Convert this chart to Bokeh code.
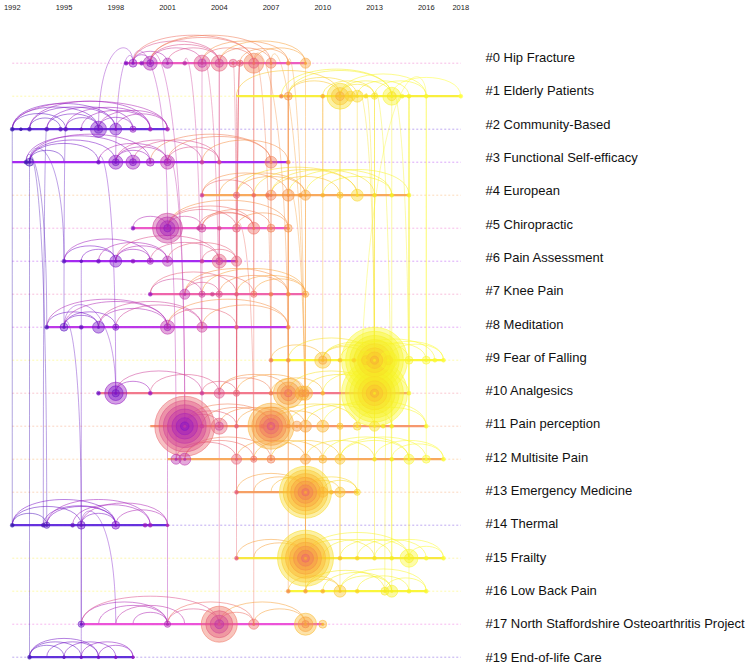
import numpy as np
from bokeh.plotting import figure
from bokeh.models import Range1d, LinearAxis, FixedTicker, ColumnDataSource
from bokeh.embed import file_html
from bokeh.resources import INLINE
from bokeh.core.properties import value

# ---------------- data ----------------
cluster_labels = ["#0 Hip Fracture", "#1 Elderly Patients", "#2 Community-Based",
                  "#3 Functional Self-efficacy", "#4 European", "#5 Chiropractic",
                  "#6 Pain Assessment", "#7 Knee Pain", "#8 Meditation", "#9 Fear of Falling",
                  "#10 Analgesics", "#11 Pain perception", "#12 Multisite Pain",
                  "#13 Emergency Medicine", "#14 Thermal", "#15 Frailty", "#16 Low Back Pain",
                  "#17 North Staffordshire Osteoarthritis Project", "#19 End-of-life Care"]
cluster_start = [1998.5, 2005, 1992, 1992, 2003, 1999, 1995, 2000, 1994, 2007, 1997, 2000,
                 2001, 2005, 1992, 2005, 2008, 1996, 1993]
cluster_end = [2009, 2018, 2001, 2008, 2015, 2008, 2005, 2009, 2008, 2017, 2015, 2016,
               2017, 2012, 2001, 2017, 2016, 2010, 1999]
year_ticks = [1992, 1995, 1998, 2001, 2004, 2007, 2010, 2013, 2016, 2018]
timeline_span = [1992, 2018]

node_years = [
    [1998.6, 1999, 1999.5, 2000, 2001, 2002, 2003, 2004, 2004.8, 2005.2, 2006, 2007, 2008, 2009],
    [2007.6, 2008, 2010, 2011, 2011.6, 2012, 2012.5, 2013, 2014, 2014.6, 2015, 2016, 2018],
    [1992, 1992.5, 1993, 1994, 1994.8, 1995.1, 1996, 1997, 1998, 1999, 2000, 2001],
    [1992.8, 1993, 1997, 1998, 1999, 2000, 2001, 2003, 2004, 2007, 2008],
    [2003, 2005, 2006, 2006.8, 2007, 2008, 2008.7, 2009, 2010, 2011, 2012, 2013, 2014, 2015],
    [1999, 2001, 2002.8, 2003, 2004, 2005, 2006, 2007, 2008],
    [1995, 1996, 1997, 1998, 1999, 2000, 2001, 2003, 2004, 2005],
    [2000, 2002, 2003, 2003.6, 2004, 2005, 2006, 2007, 2008, 2009],
    [1994, 1995, 1996, 1997, 1998, 2001, 2003, 2005, 2008],
    [2007, 2008, 2010, 2011, 2011.8, 2012.5, 2013, 2013.8, 2015, 2016, 2016.5, 2017],
    [1997, 1998, 2000, 2003, 2004, 2005, 2007, 2008, 2008.8, 2009, 2010, 2013, 2015],
    [2002, 2003, 2004, 2005, 2006.5, 2007, 2008, 2008.5, 2009, 2010, 2011, 2012, 2013, 2013.5, 2014, 2016],
    [2001.5, 2002, 2005, 2006, 2007, 2009, 2010, 2011, 2013, 2014, 2015, 2016, 2017],
    [2005, 2009, 2010, 2010.5, 2011, 2012],
    [1992, 1993.8, 1994, 1995.5, 1996, 1998, 1999.7, 2000, 2001],
    [2005, 2009, 2011, 2012, 2013, 2014, 2015, 2016, 2017],
    [2008, 2009, 2010, 2011, 2012, 2013.6, 2014, 2015, 2016],
    [1996, 2001, 2004, 2006, 2009, 2010],
    [1993, 1995, 1996, 1997, 1998, 1999],
]
node_cites = [
    [2, 8, 2, 25, 13, 2, 33, 33, 8, 5, 51, 13, 2, 13],
    [2, 8, 2, 86, 13, 18, 2, 5, 41, 2, 2, 2, 2],
    [2, 1, 2, 2, 2, 2, 1, 33, 18, 5, 2, 2],
    [2, 8, 2, 25, 25, 8, 25, 2, 2, 18, 2],
    [2, 5, 2, 2, 13, 18, 2, 13, 2, 5, 18, 2, 2, 2],
    [2, 115, 2, 8, 2, 8, 18, 8, 8],
    [2, 1, 2, 18, 2, 5, 13, 2, 25, 13],
    [2, 13, 5, 2, 5, 2, 5, 2, 2, 5],
    [2, 8, 2, 18, 5, 25, 13, 2, 2],
    [2, 2, 33, 2, 2, 41, 556, 41, 8, 8, 2, 2],
    [2, 62, 2, 2, 13, 5, 2, 115, 25, 25, 2, 556, 2],
    [459, 2, 33, 2, 2, 270, 2, 13, 18, 18, 5, 8, 13, 2, 2, 2],
    [13, 18, 13, 5, 8, 13, 8, 13, 2, 2, 13, 8, 2],
    [2, 345, 13, 2, 13, 5],
    [2, 2, 5, 2, 8, 8, 2, 2, 1],
    [2, 400, 2, 2, 2, 2, 41, 2, 2],
    [2, 2, 2, 18, 2, 8, 18, 2, 2],
    [5, 5, 165, 13, 62, 8],
    [2, 1, 1, 1, 1, 1],
]

# co-citation links inside a cluster (pairs of years)
row_links = [
    [(1999, 2004), (1999, 2006), (2000, 2006), (2000, 2003), (2000, 2004), (1999, 2001), (2001, 2004),
     (2003, 2006), (2004, 2007), (2004, 2009), (2006, 2009), (2003, 2008), (2000, 2007), (2005.2, 2008), (1999, 2000)],
    [(2005, 2011), (2007.6, 2014), (2008, 2014), (2008, 2012), (2011, 2014), (2011, 2016), (2012, 2015),
     (2014, 2018), (2010, 2013), (2013, 2016), (2008, 2011), (2011, 2013)],
    [(1992, 1997), (1992, 1998), (1992, 2001), (1993, 1998), (1993, 2000), (1994, 1997), (1994, 1999),
     (1995.1, 1997), (1995.1, 2000), (1997, 2001), (1997, 1999), (1992, 1995.1), (1993, 1994.8), (1998, 2001), (1996, 2000)],
    [(1993, 1998), (1992.8, 1999), (1993, 1997), (1993, 2000), (1997, 2001), (1998, 2001), (1998, 2003),
     (1999, 2004), (2000, 2007), (2001, 2007), (2001, 2004), (1998, 2000), (1993, 1995), (2003, 2008)],
    [(2003, 2008), (2004, 2009), (2005, 2012), (2006, 2012), (2007, 2013), (2008, 2014), (2009, 2015),
     (2005, 2009), (2007, 2011), (2010, 2014), (2003, 2006)],
    [(2001, 2005), (2001, 2006), (2001, 2008), (2003, 2007), (2003, 2006), (2005, 2008), (2002.8, 2006),
     (1999, 2001), (2001, 2003)],
    [(1995, 1998), (1995, 2000), (1996, 1998), (1997, 2001), (1998, 2001), (1998, 2004), (2000, 2004),
     (2001, 2005), (1998, 2000), (2003, 2005)],
    [(2000, 2003), (2000, 2005), (2002, 2006), (2002, 2008), (2003, 2009), (2004, 2008), (2005, 2009),
     (2006, 2009), (2002, 2004)],
    [(1994, 1997), (1994, 2001), (1995, 1998), (1995, 2001), (1997, 2001), (1997, 2003), (1998, 2003),
     (2001, 2005), (2001, 2008), (2003, 2008), (1995, 1997)],
    [(2007, 2010), (2008, 2013), (2010, 2013), (2010, 2013.8), (2011, 2015), (2012.5, 2016), (2013, 2017),
     (2013.8, 2017), (2011.8, 2016.5), (2010, 2012.5)],
    [(1998, 2000), (1998, 2003), (2000, 2004), (2003, 2005), (2004, 2008), (2005, 2009), (2007, 2010),
     (2008, 2013), (2009, 2013), (2010, 2015), (2004, 2007)],
    [(2002, 2004), (2002, 2005), (2003, 2007), (2004, 2008), (2005, 2009), (2007, 2010), (2007, 2012),
     (2008, 2013), (2009, 2014), (2010, 2016), (2012, 2016), (2002, 2007)],
    [(2001.5, 2005), (2002, 2006), (2002, 2007), (2005, 2009), (2006, 2010), (2007, 2011), (2009, 2013),
     (2010, 2015), (2011, 2016), (2013, 2017), (2011, 2015), (2014, 2017)],
    [(2005, 2009), (2006, 2009), (2007, 2010), (2009, 2011), (2009, 2012), (2010, 2012)],
    [(1992, 1994), (1992, 1996), (1993.8, 1998), (1994, 1998), (1994, 2000), (1995.5, 2000), (1996, 2001),
     (1996, 1998), (1998, 2001), (1992, 1998)],
    [(2005, 2009), (2006, 2009), (2009, 2013), (2009, 2015), (2011, 2015), (2012, 2016), (2013, 2017),
     (2015, 2017), (2010, 2014)],
    [(2008, 2011), (2009, 2013.6), (2010, 2014), (2011, 2014), (2011, 2016), (2012, 2015), (2013.6, 2016),
     (2009, 2011)],
    [(1996, 2001), (1996, 2004), (1997, 2001), (1998, 2002), (2001, 2004), (2001, 2006), (2004, 2006),
     (2004, 2009), (2006, 2009), (1999, 2001)],
    [(1993, 1996), (1993, 1997), (1994, 1997), (1995, 1998), (1996, 1999), (1993, 1995), (1997, 1999)],
]

# links between clusters: (row a, year a, row b, year b) -- rows are display positions
cross_links = [
    (18, 1993, 3, 1993), (14, 1992, 2, 1992), (14, 1993.8, 2, 1994), (14, 1994, 3, 1993),
    (8, 1995, 2, 1995.1), (8, 1994, 3, 1992.8), (6, 1995, 3, 1993), (14, 1996, 8, 1995),
    (17, 1996, 14, 1996), (18, 1996, 17, 1996), (17, 1996, 6, 1996), (10, 1998, 3, 1997),
    (10, 1998, 8, 1995), (17, 1998, 14, 1996), (17, 2001, 11, 2001), (12, 2001.5, 5, 2001),
    (11, 2002, 3, 2001), (11, 2002, 0, 2000), (5, 2001, 0, 1999), (3, 1998, 0, 1999),
    (2, 1997, 0, 1999), (13, 2005, 0, 2005.2), (11, 2004, 0, 2004), (10, 2004, 0, 2003),
    (17, 2004, 5, 2004), (17, 2006, 4, 2006), (12, 2005, 0, 2005.2), (12, 2007, 0, 2007),
    (11, 2007, 0, 2006), (13, 2009, 0, 2007), (15, 2009, 0, 2008), (15, 2009, 4, 2009),
    (13, 2009, 4, 2008), (10, 2008, 0, 2006), (9, 2008, 1, 2008), (7, 2006, 0, 2006),
    (6, 2004, 0, 2004), (8, 2003, 0, 2003), (5, 2006, 0, 2006), (12, 2006, 5, 2005),
    (11, 2003, 0, 2002), (16, 2011, 1, 2011), (16, 2014, 1, 2014), (15, 2015, 1, 2015),
    (12, 2015, 1, 2014), (9, 2013, 1, 2013), (10, 2013, 1, 2012), (15, 2013, 9, 2013),
    (16, 2013.6, 9, 2013.8), (11, 2013, 1, 2013), (12, 2011, 1, 2011), (15, 2011, 4, 2011),
    (13, 2010, 1, 2010), (16, 2009, 10, 2009), (15, 2012, 1, 2016), (12, 2016, 1, 2016),
    (4, 2012, 1, 2012), (4, 2010, 1, 2010), (16, 2008, 1, 2008), (15, 2005, 0, 2005.2),
    (9, 2007, 0, 2007), (10, 2005, 0, 2004.8), (11, 2005, 1, 2005), (12, 2009, 0, 2009),
    (15, 2014, 1, 2013), (16, 2015, 1, 2015), (9, 2016, 1, 2016), (10, 2015, 1, 2015),
    (12, 2013, 1, 2012.5), (11, 2014, 9, 2014), (13, 2008, 0, 2008), (11, 2008, 1, 2008),
]

# ---------------- layout ----------------
W, H = 753, 665
TOP = 10
PX_YEAR = 17.25
X0 = 2001 - 167 / PX_YEAR
X1 = X0 + W / PX_YEAR
PPR = 33.0
ROW0 = 52.7
frame_h = H - TOP
y_top = ROW0 / PPR
y_bot = -(frame_h - ROW0) / PPR

NODE_Y = [1992, 1995, 1998, 2000, 2002, 2004, 2006, 2008, 2010, 2012, 2014, 2018]
NODE_C = [(60, 30, 175), (95, 25, 195), (125, 20, 200), (160, 30, 190), (190, 50, 170),
          (220, 80, 140), (238, 110, 100), (245, 145, 70), (250, 180, 50), (250, 215, 40),
          (245, 240, 35), (255, 255, 60)]
LINE_Y = [1995, 1998, 2000, 2003, 2005, 2007, 2009, 2010.5, 2012]
LINE_C = [(80, 40, 210), (110, 40, 230), (160, 32, 240), (235, 75, 215), (240, 100, 150),
          (242, 128, 120), (248, 165, 85), (248, 225, 60), (250, 245, 50)]


def pal(y, ys, cs):
    r = np.interp(y, ys, [c[0] for c in cs])
    g = np.interp(y, ys, [c[1] for c in cs])
    b = np.interp(y, ys, [c[2] for c in cs])
    return "#%02x%02x%02x" % (int(r), int(g), int(b))


def ncol(y):
    return pal(y, NODE_Y, NODE_C)


def lcol(y):
    return pal(y, LINE_Y, LINE_C)


p = figure(width=W, height=H, x_range=Range1d(X0, X1), y_range=Range1d(y_bot, y_top),
           output_backend="svg", toolbar_location=None, x_axis_location=None,
           y_axis_location=None, min_border_left=0, min_border_right=0,
           min_border_bottom=0, min_border_top=TOP)
p.grid.visible = False
p.outline_line_color = None
p.background_fill_color = "white"
p.border_fill_color = "white"

ax = LinearAxis(ticker=FixedTicker(ticks=year_ticks))
ax.axis_line_color = None
ax.major_tick_line_color = None
ax.minor_tick_line_color = None
ax.major_tick_out = 0
ax.major_tick_in = 0
ax.major_label_standoff = 1
ax.major_label_text_font = "Liberation Sans"
ax.major_label_text_font_size = "7.5px"
ax.major_label_text_color = "#222222"
p.add_layout(ax, "above")

n = len(cluster_labels)
rows_y = [-i for i in range(n)]
line_colors = [lcol((s + e) / 2) for s, e in zip(cluster_start, cluster_end)]

# dashed background timelines
p.segment(x0=[timeline_span[0]] * n, y0=rows_y, x1=[timeline_span[1]] * n, y1=rows_y,
          line_color=line_colors, line_alpha=0.4, line_width=1, line_dash="2 2")

# cross-cluster links
cl = dict(x0=[], y0=[], x1=[], y1=[], cx0=[], cy0=[], cx1=[], cy1=[], c=[])
for ra, ya, rb, yb in cross_links:
    dx = abs(ya - yb) * PX_YEAR
    h = min(45, 0.6 * dx) + 6
    top = -min(ra, rb) + h / PPR
    cl["x0"].append(ya); cl["y0"].append(-ra)
    cl["x1"].append(yb); cl["y1"].append(-rb)
    cl["cx0"].append(ya); cl["cy0"].append(top)
    cl["cx1"].append(yb); cl["cy1"].append(top)
    cl["c"].append(ncol(max(ya, yb)))
p.bezier(x0="x0", y0="y0", x1="x1", y1="y1", cx0="cx0", cy0="cy0", cx1="cx1", cy1="cy1",
         line_color="c", line_alpha=0.45, line_width=0.9, source=ColumnDataSource(cl))

# in-cluster arcs
al = dict(x0=[], y0=[], x1=[], y1=[], cx0=[], cy0=[], cx1=[], cy1=[], c=[])
for i, links in enumerate(row_links):
    for a, b in links:
        dx = abs(b - a) * PX_YEAR
        h = min(28, 5 + 0.2 * dx)
        cy = -i + (4.0 / 3.0) * h / PPR
        al["x0"].append(a); al["y0"].append(-i)
        al["x1"].append(b); al["y1"].append(-i)
        al["cx0"].append(a); al["cy0"].append(cy)
        al["cx1"].append(b); al["cy1"].append(cy)
        al["c"].append(ncol(max(a, b)))
p.bezier(x0="x0", y0="y0", x1="x1", y1="y1", cx0="cx0", cy0="cy0", cx1="cx1", cy1="cy1",
         line_color="c", line_alpha=0.6, line_width=0.9, source=ColumnDataSource(al))

# cluster timelines
p.segment(x0=cluster_start, y0=rows_y, x1=cluster_end, y1=rows_y,
          line_color=line_colors, line_width=2.2, line_alpha=0.95)

# nodes as citation tree rings
rings = []
for i in range(n):
    for yr, c in zip(node_years[i], node_cites[i]):
        R = 1.4 * np.sqrt(c)
        k = max(1, int(round(R / 4.0)))
        a = min(3.5, R / 8.0)
        for j in range(k):
            rad = R * (k - j) / k
            t = 1.0 - j / (k - 1) if k > 1 else 0.5
            ry = yr - a + 2 * a * t
            rings.append((yr, -i, 2 * rad, ncol(ry)))
rings.sort(key=lambda r: -r[2])
rs = ColumnDataSource(dict(x=[r[0] for r in rings], y=[r[1] for r in rings],
                           s=[r[2] for r in rings], c=[r[3] for r in rings]))
p.scatter(x="x", y="y", size="s", marker="circle", fill_color="c", fill_alpha=0.42,
          line_color="c", line_alpha=0.75, line_width=0.7, source=rs)

# centre dots
cx, cyy, cc = [], [], []
for i in range(n):
    for yr in node_years[i]:
        cx.append(yr); cyy.append(-i); cc.append(ncol(yr))
p.scatter(x=cx, y=cyy, size=3, marker="circle", fill_color=cc, line_color=None, fill_alpha=0.9)

# cluster labels
lx = X0 + 485 / PX_YEAR
label_y = [-i + (5.7 * (1 - i / (n - 1))) / PPR for i in range(n)]
p.text(x=[lx] * n, y=label_y, text=cluster_labels, text_font=value("Liberation Sans"),
       text_font_size="13px", text_baseline="middle", text_align="left", text_color="#111111")

open("out.html", "w").write(file_html(p, INLINE))
